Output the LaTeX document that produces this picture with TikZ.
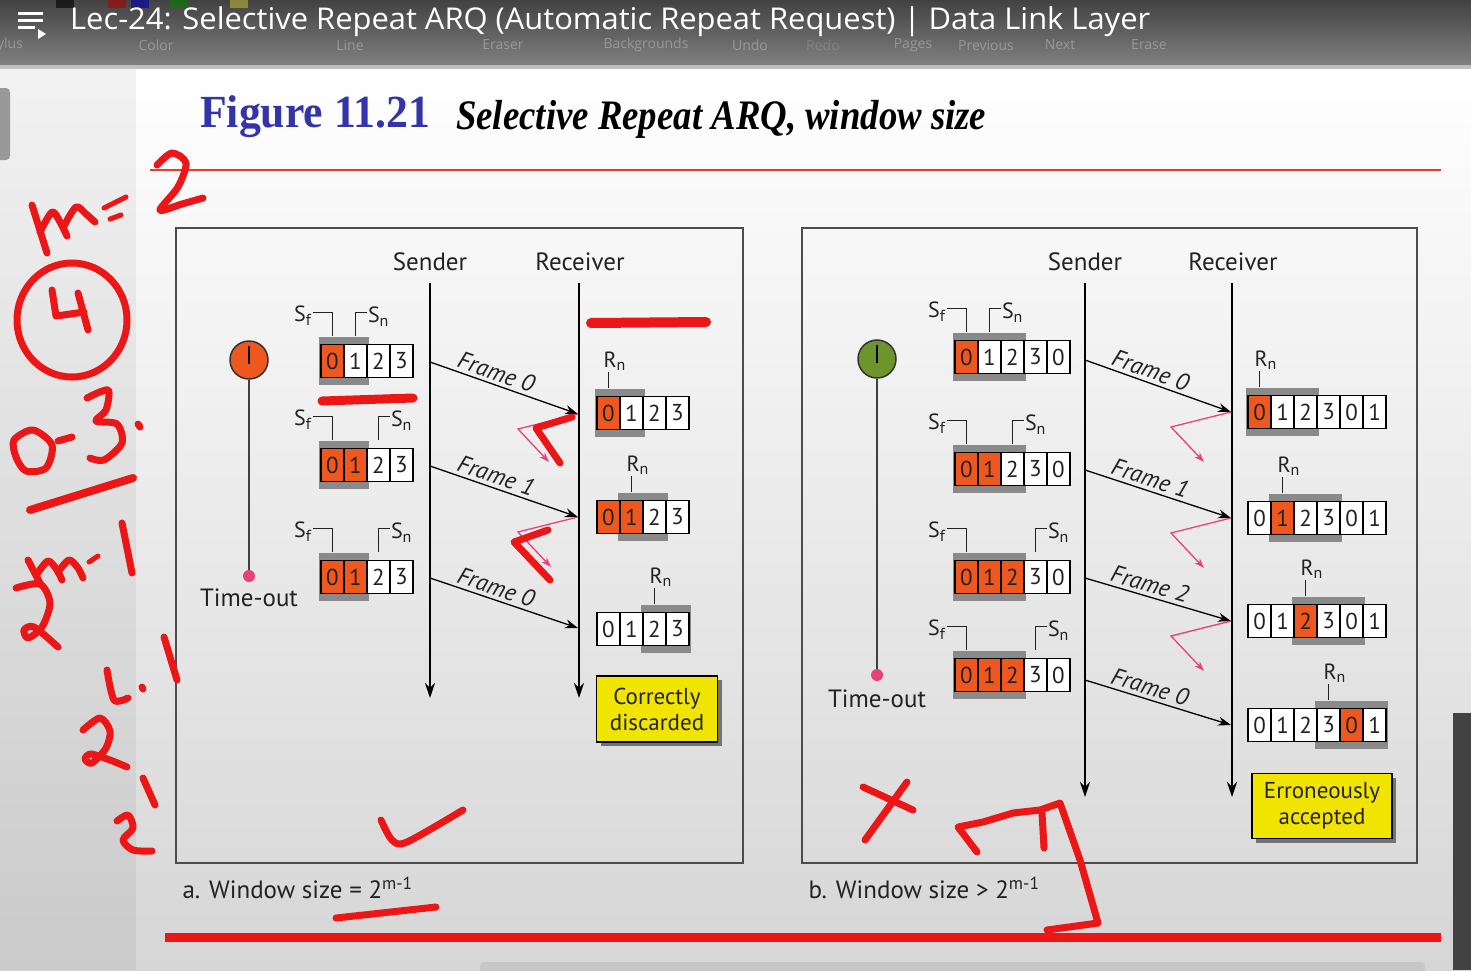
\documentclass[tikz,border=0pt]{standalone}
\usepackage{fontspec}
\setmainfont{PT Sans}
\newfontfamily\barfont{Open Sans}
\newfontfamily\bookfont{Liberation Serif}
\usetikzlibrary{arrows.meta, positioning, calc, shadows}
\definecolor{winorange}{RGB}{238,88,30}
\definecolor{wingray}{RGB}{138,138,138}
\definecolor{ackpink}{RGB}{232,64,122}
\definecolor{inkred}{RGB}{236,22,22}
\definecolor{rulered}{RGB}{230,60,50}
\definecolor{figblue}{RGB}{52,52,170}
\definecolor{noteyellow}{RGB}{240,228,0}
\definecolor{timegreen}{RGB}{108,150,44}
\definecolor{bardark}{RGB}{66,66,66}
\definecolor{barlight}{RGB}{128,128,128}
\definecolor{slidegray}{RGB}{214,214,214}
\definecolor{textdark}{RGB}{34,34,34}
\newcommand{\lowidx}[1]{\raisebox{-0.35ex}{\fontsize{16}{16}\selectfont #1}}
\tikzset{
  cell/.style={rectangle, draw=black, line width=1.1pt, minimum width=23pt,
    minimum height=33pt, inner sep=0pt, text=textdark, font=\fontsize{23}{23}\selectfont},
  ptr/.style={line width=1pt, color=textdark},
  ptrlab/.style={inner sep=1pt, text=textdark, font=\fontsize{22}{22}\selectfont},
  head/.style={text=textdark, font=\fontsize{25}{25}\selectfont},
  life/.style={-{Stealth[length=15pt,width=10pt]}, line width=2.2pt, color=black},
  frame/.style={-{Stealth[length=13pt,width=9pt]}, line width=1.3pt, color=black},
  flab/.style={sloped, above=0pt, pos=0.42, text=textdark, font=\itshape\fontsize{24}{24}\selectfont},
  ack/.style={-{Stealth[length=10pt,width=7pt]}, line width=1.3pt, color=ackpink},
  timer/.style={circle, draw=black!80, line width=1.5pt, minimum size=38pt, inner sep=0pt},
  tdot/.style={circle, fill=ackpink, minimum size=12pt, inner sep=0pt},
  tline/.style={line width=2pt, color=black!75},
  note/.style={rectangle, fill=noteyellow, draw=black, line width=1.3pt, align=center,
    inner sep=2pt, text=textdark, font=\fontsize{23}{26}\selectfont,
    drop shadow={shadow xshift=4pt, shadow yshift=-4pt, fill=black!55, opacity=1}},
  panel/.style={draw=black!70, line width=2.2pt},
  caption/.style={anchor=west, text=textdark, font=\fontsize{25}{25}\selectfont},
  toollab/.style={text=white, opacity=0.3, font=\barfont\fontsize{14}{14}\selectfont},
  ink/.style={draw=inkred, line width=7pt, line cap=round, line join=round}
}
% one window row: name, x of left cell edge, y, first and last shaded cell, digit/colour list
\newcommand{\winrow}[6]{%
  \fill[wingray] ({#2+23*#4-2},{#3-24}) rectangle ({#2+23*(#5+1)+2},{#3+24});
  \foreach \d/\s [count=\i from 0] in {#6}
    \node[cell, fill=\s] (#1-\i) at ({#2+11.5+23*\i},#3) {\d};
}
\newcommand{\sfptr}[1]{\draw[ptr] ([yshift=7.5pt]#1.north) |- ++(-20,-24) node[ptrlab, anchor=east, yshift=-3pt] {S\lowidx{f}};}
\newcommand{\snptr}[1]{\draw[ptr] ([yshift=7.5pt]#1.north) |- ++(11,-24) node[ptrlab, anchor=west, yshift=-4pt] {S\lowidx{n}};}
\newcommand{\rnptr}[1]{\draw[ptr] ([yshift=7.5pt]#1.north) -- ++(0,-16) node[ptrlab, anchor=south, xshift=6pt] {R\lowidx{n}};}

\begin{document}
\begin{tikzpicture}[x=1pt,y=-1pt]
\useasboundingbox (0,0) rectangle (1471,970);

% screen and slide
\shade[top color=white, bottom color=slidegray] (0,68) rectangle (1471,970);
\fill[black, opacity=0.05] (0,68) rectangle (136,970);
\fill[black!40, rounded corners=4pt] (-8,88) rectangle (10,160);
\fill[black!22, rounded corners=4pt] (480,962) rectangle (1425,978);
\fill[bardark] (1453,713) rectangle (1471,970);

% video title bar
\shade[top color=bardark, bottom color=barlight] (0,0) rectangle (1471,65);
\fill[black!25] (0,65) rectangle (1471,69);
\foreach \c/\x in {black/56, red!70!black/108, blue!70!black/131, green!50!black/169, yellow!70!black/230}
  \fill[\c, opacity=0.6] (\x,0) rectangle (\x+18,8);
\foreach \t/\x in {ylus/10, Color/156, Line/350, Eraser/503, Backgrounds/646, Undo/750,
                   Pages/913, Previous/986, Next/1060, Erase/1149}
  \node[toollab] (tool\x) at (\x,45) {\t};
\node[toollab, opacity=0.15] (toolredo) at (823,45) {Redo};
\draw[white, line width=3pt] (18,13) -- (43,13) (18,20) -- (43,20) (18,27) -- (35,27);
\fill[white] (38,29) -- (46,34) -- (38,39) -- cycle;
\node[anchor=west, text=white, inner sep=0pt] (lec) at (70,22)
  {\resizebox{1080pt}{\height}{\barfont\fontsize{30}{30}\selectfont Lec-24: Selective Repeat ARQ (Automatic Repeat Request) | Data Link Layer}};

% figure heading
\node[anchor=west, inner sep=0pt, text=figblue] (fignum) at (200,117)
  {\resizebox{230pt}{\height}{\bookfont\bfseries\fontsize{46}{46}\selectfont Figure 11.21}};
\node[anchor=west, inner sep=0pt, text=black] (figtitle) at (456,119)
  {\resizebox{530pt}{\height}{\bookfont\bfseries\itshape\fontsize{42}{42}\selectfont Selective Repeat ARQ, window size}};
\draw[rulered, line width=2.5pt] (150,170) -- (1441,170);

% panels
\draw[panel] (176,228) rectangle (743,863);
\draw[panel] (802,228) rectangle (1417,863);
\node[caption] (capa) at (179,888) {a. Window size = 2\textsuperscript{m-1}};
\node[caption] (capb) at (805,888) {b. Window size > 2\textsuperscript{m-1}};

% ---- a. window size 2^(m-1)
\node[head] (aSend) at (430,262) {Sender};
\node[head] (aRecv) at (580,262) {Receiver};
\coordinate (aSendEnd) at (430,698);
\coordinate (aRecvEnd) at (579,698);
\draw[life] (430,283) -- (aSendEnd);
\draw[life] (579,283) -- (aRecvEnd);

\node[timer, fill=winorange] (aClock) at (249,360) {};
\draw[line width=2.2pt] (249,364) -- (249,346);
\node[tdot] (aOut) at (249,576) {};
\draw[tline] (aClock) -- (aOut);
\node[head, below=3pt of aOut] (aOutLab) {Time-out};

\winrow{aS1}{321}{361}{0}{1}{0/winorange,1/white,2/white,3/white}
\winrow{aS2}{321}{465}{0}{1}{0/winorange,1/winorange,2/white,3/white}
\winrow{aS3}{321}{577}{0}{1}{0/winorange,1/winorange,2/white,3/white}
\sfptr{aS1-0} \snptr{aS1-1}
\sfptr{aS2-0} \snptr{aS2-2}
\sfptr{aS3-0} \snptr{aS3-2}

\winrow{aR1}{597}{413}{0}{1}{0/winorange,1/white,2/white,3/white}
\winrow{aR2}{597}{517}{1}{2}{0/winorange,1/winorange,2/white,3/white}
\winrow{aR3}{597}{629}{2}{3}{0/white,1/white,2/white,3/white}
\rnptr{aR1-0}
\rnptr{aR2-1}
\rnptr{aR3-2}

\coordinate (aF1) at (430,362); \coordinate (aA1) at (578,414);
\coordinate (aF2) at (430,466); \coordinate (aA2) at (578,517);
\coordinate (aF3) at (430,578); \coordinate (aA3) at (578,628);
\draw[frame] (aF1) -- node[flab] {Frame 0} (aA1);
\draw[frame] (aF2) -- node[flab] {Frame 1} (aA2);
\draw[frame] (aF3) -- node[flab] {Frame 0} (aA3);
\draw[ack] (aA1) -- ++(-60,15) -- ++(31,33);
\draw[ack] (aA2) -- ++(-60,15) -- ++(33,35);

\node[note, minimum width=121pt, minimum height=66pt] (aNote) at (657,709) {Correctly\\discarded};

% ---- b. window size > 2^(m-1)
\node[head] (bSend) at (1085,262) {Sender};
\node[head] (bRecv) at (1233,262) {Receiver};
\coordinate (bSendEnd) at (1085,797);
\coordinate (bRecvEnd) at (1232,797);
\draw[life] (1085,283) -- (bSendEnd);
\draw[life] (1232,283) -- (bRecvEnd);

\node[timer, fill=timegreen] (bClock) at (877,359) {};
\draw[line width=2.2pt] (877,363) -- (877,345);
\node[tdot] (bOut) at (877,675) {};
\draw[tline] (bClock) -- (bOut);
\node[head, below=5pt of bOut] (bOutLab) {Time-out};

\winrow{bS1}{955}{357}{0}{2}{0/winorange,1/white,2/white,3/white,0/white}
\winrow{bS2}{955}{469}{0}{2}{0/winorange,1/winorange,2/white,3/white,0/white}
\winrow{bS3}{955}{577}{0}{2}{0/winorange,1/winorange,2/winorange,3/white,0/white}
\winrow{bS4}{955}{675}{0}{2}{0/winorange,1/winorange,2/winorange,3/white,0/white}
\sfptr{bS1-0} \snptr{bS1-1}
\sfptr{bS2-0} \snptr{bS2-2}
\sfptr{bS3-0} \snptr{bS3-3}
\sfptr{bS4-0} \snptr{bS4-3}

\winrow{bR1}{1248}{412}{0}{2}{0/winorange,1/white,2/white,3/white,0/white,1/white}
\winrow{bR2}{1248}{518}{1}{3}{0/white,1/winorange,2/white,3/white,0/white,1/white}
\winrow{bR3}{1248}{621}{2}{4}{0/white,1/white,2/winorange,3/white,0/white,1/white}
\winrow{bR4}{1248}{725}{3}{5}{0/white,1/white,2/white,3/white,0/winorange,1/white}
\rnptr{bR1-0}
\rnptr{bR2-1}
\rnptr{bR3-2}
\rnptr{bR4-3}

\coordinate (bF1) at (1085,360); \coordinate (bA1) at (1231,412);
\coordinate (bF2) at (1085,470); \coordinate (bA2) at (1231,518);
\coordinate (bF3) at (1085,578); \coordinate (bA3) at (1231,621);
\coordinate (bF4) at (1085,680); \coordinate (bA4) at (1231,725);
\draw[frame] (bF1) -- node[flab] {Frame 0} (bA1);
\draw[frame] (bF2) -- node[flab] {Frame 1} (bA2);
\draw[frame] (bF3) -- node[flab] {Frame 2} (bA3);
\draw[frame] (bF4) -- node[flab] {Frame 0} (bA4);
\draw[ack] (bA1) -- ++(-60,15) -- ++(33,35);
\draw[ack] (bA2) -- ++(-60,15) -- ++(33,35);
\draw[ack] (bA3) -- ++(-60,15) -- ++(33,35);

\node[note, minimum width=140pt, minimum height=65pt] (bNote) at (1322,806) {Erroneously\\accepted};

% bottom rule
\draw[inkred, line width=9pt] (165,937) -- (1441,937);

% pen notes on top
\begin{scope}[ink]
  % m = 2
  \draw (32,205) -- (47,253);
  \draw plot[smooth] coordinates {(40,232)(52,212)(60,222)(67,236)};
  \draw plot[smooth] coordinates {(64,226)(76,207)(86,214)(95,222)};
  \draw[line width=5pt] (104,208) -- (126,197);
  \draw[line width=5pt] (110,219) -- (121,215);
  \draw plot[smooth] coordinates {(157,165)(172,153)(186,163)(178,187)(160,210)(182,204)(203,198)};
  % circled 4
  \draw (72,320) ellipse [x radius=55, y radius=57];
  \draw (52,290) -- (56,316) -- (84,312);
  \draw (78,293) -- (88,330);
  % 0-3.
  \draw plot[smooth cycle] coordinates {(14,440)(33,430)(52,445)(46,468)(26,471)(16,457)};
  \draw (58,441) -- (72,437);
  \draw plot[smooth] coordinates {(87,398)(108,390)(106,410)(96,421)(117,424)(122,443)(104,460)(90,458)};
  \draw (138,424) -- (140,427);
  \draw[line width=8pt] (30,510) -- (133,478);
  % 2^(m-1)
  \draw (122,523) -- (132,573);
  \draw plot[smooth] coordinates {(16,588)(40,584)(50,603)(42,627)(28,638)(24,630)(34,627)(58,647)};
  \draw (28,560) -- (41,585);
  \draw plot[smooth] coordinates {(37,574)(48,561)(57,570)(62,580)};
  \draw plot[smooth] coordinates {(58,572)(69,560)(78,568)(83,578)};
  \draw[line width=5pt] (89,562) -- (98,556);
  \draw (164,637) -- (177,680);
  % 2^(2-1), 2^1
  \draw plot[smooth] coordinates {(107,670)(114,700)(128,698)};
  \draw (142,687) -- (143,689);
  \draw plot[smooth] coordinates {(83,730)(100,718)(110,731)(106,748)(92,763)(85,759)(91,754)(110,760)(127,767)};
  \draw (143,778) -- (155,805);
  \draw plot[smooth] coordinates {(117,821)(128,815)(133,828)(123,840)(133,850)(152,851)};
  % marks in panel a
  \draw[line width=9pt] (322,401) -- (413,398);
  \draw[line width=10pt] (591,323) -- (706,322);
  \draw (572,417) -- (536,428) -- (560,463);
  \draw (548,530) -- (514,542) -- (550,580);
  \draw plot[smooth] coordinates {(381,820)(392,840)(407,842)(463,810)};
  \draw (336,918) -- (436,907);
  % marks in panel b
  \draw (865,840) -- (907,782);
  \draw (863,787) -- (913,810);
  \draw (977,852) -- (958,827) -- (983,822) -- (1013,813) -- (1040,810) -- (1060,803)
        -- (1080,860) -- (1098,923) -- (1047,930);
  \draw (1042,813) -- (1044,848);
\end{scope}
\end{tikzpicture}
\end{document}
